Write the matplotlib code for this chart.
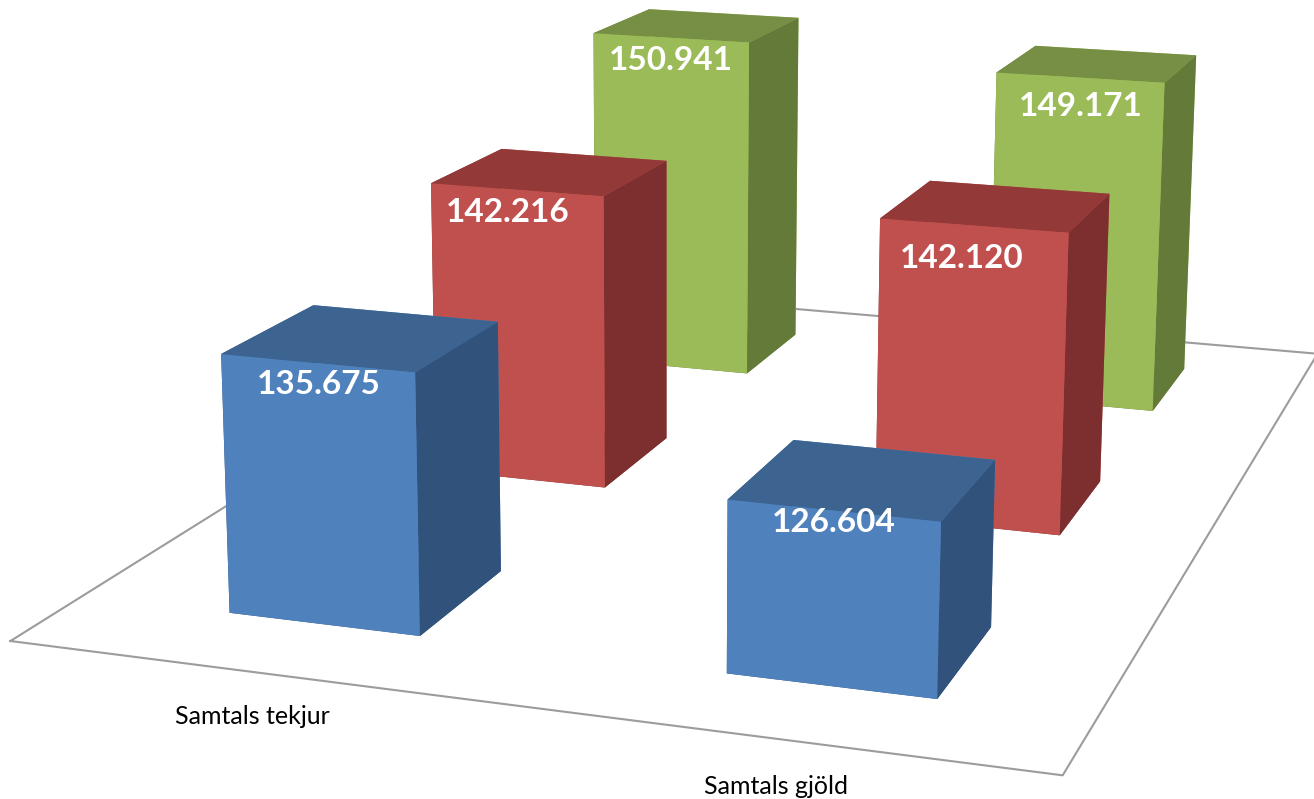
import matplotlib
matplotlib.use('Agg')
import matplotlib.pyplot as plt

# Values (thousands, dot as separator in the labels)
categories = ['Samtals tekjur', 'Samtals gjöld']
blue_values = [135675, 126604]
red_values = [142216, 142120]
green_values = [150941, 149171]

# front, top, side colours of each series
blue_colors = ['#4F81BD', '#3D6491', '#31527B']
red_colors = ['#C0504D', '#933A39', '#7C2F2E']
green_colors = ['#9BBB59', '#778F45', '#647A38']

# Label centres in pixels of the picture
label_centres = [[(319, 384), (834, 522)], [(508, 212), (962, 258)], [(671, 61), (1081, 107)]]
category_centres = [(252, 717), (776, 786)]

W, H = 1314, 799
z_base = 110030
z_top = 160000

plt.rcParams['font.family'] = ['Lato', 'DejaVu Sans']

fig = plt.figure(figsize=(W / 100, H / 100), dpi=100, facecolor='white')

# Camera found by fitting to the corners of the bars and of the floor
side = 1650.2
cx, cy = 739.76, 276.23
ax = fig.add_axes([(cx - side / 2) / W, 1 - (cy + side / 2) / H, side / W, side / H], projection='3d')
ax.view_init(13.251, -72.183, -0.404)
ax.set_proj_type('persp', focal_length=0.3617)
ax.set_xlim(0, 2, view_margin=0)
ax.set_ylim(0, 3, view_margin=0)
ax.set_zlim(z_base, z_top, view_margin=0)
ax.set_box_aspect((1, 1.4441, 0.4986))
ax.set_axis_off()
ax.patch.set_alpha(0)
ax.computed_zorder = False

# Floor outline
ax.plot([0, 2, 2, 0, 0], [0, 0, 3, 3, 0], [z_base] * 5, color='#9C9C9C', linewidth=1.5, zorder=1)

bar_w = 0.3954
bar_d = 0.4119
x_step = 1.0018
y_step = 1.0208

series = [(blue_values, blue_colors), (red_values, red_colors), (green_values, green_colors)]

# Back row first so that the nearer bars cover it
for s in [2, 1, 0]:
    values, (front, top, dark) = series[s]
    for c in range(len(categories)):
        x = c * x_step + 0.5108 - bar_w / 2
        y = s * y_step + 0.4889 - bar_d / 2
        # order of the faces: bottom, top, front, back, left, right
        faces = [dark, top, front, front, dark, dark]
        ax.bar3d(x, y, z_base, bar_w, bar_d, values[c] - z_base, color=faces,
                 shade=False, edgecolor='none', linewidth=0, zorder=10 + (2 - s) * 10 + c)

# Value labels
for s in range(3):
    values = series[s][0]
    for c in range(2):
        px, py = label_centres[s][c]
        fig.text(px / W, 1 - py / H, f'{values[c]:,}'.replace(',', '.'), color='white',
                 fontsize=24, fontweight='bold', ha='center', va='center')

# Category labels
for name, (px, py) in zip(categories, category_centres):
    fig.text(px / W, 1 - py / H, name, color='black', fontsize=18, ha='center', va='center')

fig.savefig('out.png', dpi=100, facecolor='white')
